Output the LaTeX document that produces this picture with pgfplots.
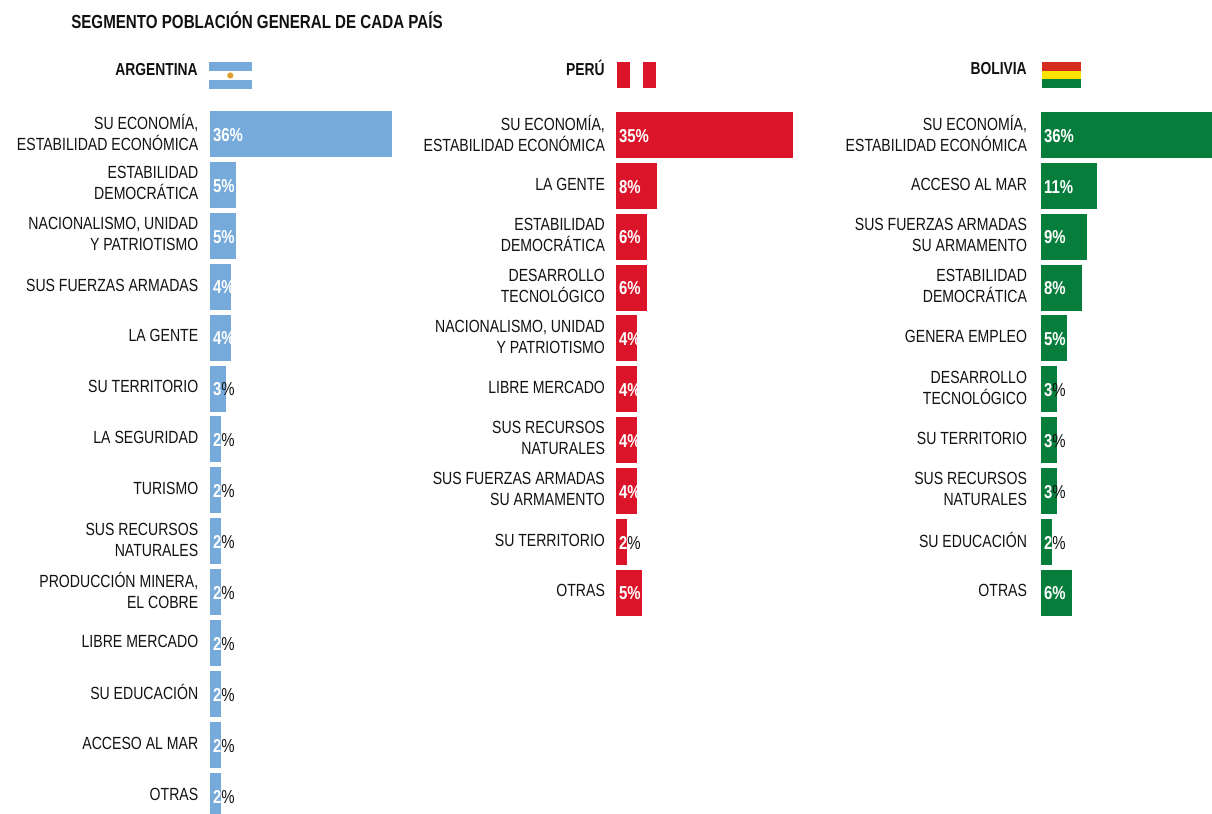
\documentclass[border=0pt]{standalone}
\usepackage{pgfplots}
\pgfplotsset{compat=1.18}
\usepackage{fontspec}
\setmainfont[FakeStretch=0.8]{Liberation Sans}
\definecolor{ar}{HTML}{75AADB}
\definecolor{pe}{HTML}{DC1429}
\definecolor{bo}{HTML}{077D3C}
\definecolor{bored}{HTML}{D52B1E}
\definecolor{boyel}{HTML}{FCE300}
\definecolor{sun}{HTML}{E0A030}
\definecolor{ink}{HTML}{111111}
\newcommand{\W}[1]{\textcolor{white}{#1\%}}
\newcommand{\K}[1]{\textcolor{white}{#1}\textcolor{ink}{\mdseries\%}}
\newcommand{\lfs}{\fontsize{13.2}{15.7}\selectfont}
\pgfplotsset{
  panel/.style={
    anchor=north west, scale only axis,
    width=750pt, height=609.75pt,
    x=3.78pt,
    xmin=0, xmax=198,
    y dir=reverse, clip=false, axis line style={draw=none},
    xtick=\empty, tick style={draw=none},
    yticklabel style={align=right,font=\lfs,text=ink,inner xsep=0pt,xshift=-9pt,yshift=1.3pt},
  },
  vals/.style={draw=none, mark=none, point meta=explicit symbolic, nodes near coords, every node near coord/.style={anchor=west,inner xsep=0pt,xshift=1.7pt,yshift=-0.6pt,font=\fontsize{14}{16}\selectfont\bfseries}},
  bars/.style={xbar, bar width=33.75pt, bar shift=0pt, fill=#1, draw=#1, line width=0.75pt},
}
\begin{document}
\begin{tikzpicture}[x=0.75pt,y=-0.75pt]
\path[use as bounding box] (0,0) rectangle (1212,813);
\begin{scope}
\clip (0,0) rectangle (1212,813);
\node[anchor=base west,inner xsep=0pt,text=ink,font=\fontsize{14.2}{16}\selectfont\bfseries] at (71,29) {SEGMENTO POBLACIÓN GENERAL DE CADA PAÍS};
\node[anchor=base east,inner xsep=0pt,text=ink,font=\fontsize{13}{14}\selectfont\bfseries] at (198,76) {ARGENTINA};
\node[anchor=base east,inner xsep=0pt,text=ink,font=\fontsize{13}{14}\selectfont\bfseries] at (605,76) {PERÚ};
\node[anchor=base east,inner xsep=0pt,text=ink,font=\fontsize{13}{14}\selectfont\bfseries] at (1027,75) {BOLIVIA};
% flags
\fill[ar] (209,62) rectangle (252,71);
\fill[ar] (209,80) rectangle (252,89);
\fill[sun] (230.3,75.5) circle (3.1);
\fill[pe] (617,62) rectangle (630,88);
\fill[pe] (643,62) rectangle (656,88);
\fill[bored] (1042,62) rectangle (1081,70.7);
\fill[boyel] (1042,70.7) rectangle (1081,79.3);
\fill[bo] (1042,79.3) rectangle (1081,88);

\begin{axis}[panel,
  at={(157.875pt,-0pt)},
  y=38.175pt, ymin=-2.633, ymax=13.34,
  ytick={0,...,13},
  yticklabels={{SU ECONOMÍA,\\ESTABILIDAD ECONÓMICA},{ESTABILIDAD\\DEMOCRÁTICA},{NACIONALISMO, UNIDAD\\Y PATRIOTISMO},{SUS FUERZAS ARMADAS},{LA GENTE},{SU TERRITORIO},{LA SEGURIDAD},{TURISMO},{SUS RECURSOS\\NATURALES},{PRODUCCIÓN MINERA,\\EL COBRE},{LIBRE MERCADO},{SU EDUCACIÓN},{ACCESO AL MAR},{OTRAS}},
]
\addplot[bars=ar] coordinates {(36,0)(5,1)(5,2)(4,3)(4,4)(3,5)(2,6)(2,7)(2,8)(2,9)(2,10)(2,11)(2,12)(2,13)};
\addplot[vals] coordinates {
(0,0)[\W{36}](0,1)[\W{5}](0,2)[\W{5}](0,3)[\W{4}](0,4)[\W{4}](0,5)[\K{3}](0,6)[\K{2}](0,7)[\K{2}](0,8)[\K{2}](0,9)[\K{2}](0,10)[\K{2}](0,11)[\K{2}](0,12)[\K{2}](0,13)[\K{2}]};
\end{axis}

\begin{axis}[panel,
  at={(462.375pt,-0pt)},
  y=38.14pt, ymin=-2.654, ymax=13.33,
  ytick={0,...,9},
  yticklabel style={xshift=0.5pt},
  yticklabels={{SU ECONOMÍA,\\ESTABILIDAD ECONÓMICA},{LA GENTE},{ESTABILIDAD\\DEMOCRÁTICA},{DESARROLLO\\TECNOLÓGICO},{NACIONALISMO, UNIDAD\\Y PATRIOTISMO},{LIBRE MERCADO},{SUS RECURSOS\\NATURALES},{SUS FUERZAS ARMADAS\\SU ARMAMENTO},{SU TERRITORIO},{OTRAS}},
]
\addplot[bars=pe] coordinates {(35,0)(8,1)(6,2)(6,3)(4,4)(4,5)(4,6)(4,7)(2,8)(5,9)};
\addplot[vals] coordinates {
(0,0)[\W{35}](0,1)[\W{8}](0,2)[\W{6}](0,3)[\W{6}](0,4)[\W{4}](0,5)[\W{4}](0,6)[\W{4}](0,7)[\W{4}](0,8)[\K{2}](0,9)[\W{5}]};
\end{axis}

\begin{axis}[panel,
  at={(781.125pt,-0pt)},
  y=38.14pt, ymin=-2.654, ymax=13.33,
  ytick={0,...,9},
  yticklabel style={xshift=-1.7pt},
  yticklabels={{SU ECONOMÍA,\\ESTABILIDAD ECONÓMICA},{ACCESO AL MAR},{SUS FUERZAS ARMADAS\\SU ARMAMENTO},{ESTABILIDAD\\DEMOCRÁTICA},{GENERA EMPLEO},{DESARROLLO\\TECNOLÓGICO},{SU TERRITORIO},{SUS RECURSOS\\NATURALES},{SU EDUCACIÓN},{OTRAS}},
]
\addplot[bars=bo] coordinates {(36,0)(11,1)(9,2)(8,3)(5,4)(3,5)(3,6)(3,7)(2,8)(6,9)};
\addplot[vals] coordinates {
(0,0)[\W{36}](0,1)[\W{11}](0,2)[\W{9}](0,3)[\W{8}](0,4)[\W{5}](0,5)[\K{3}](0,6)[\K{3}](0,7)[\K{3}](0,8)[\K{2}](0,9)[\W{6}]};
\end{axis}
\end{scope}
\end{tikzpicture}
\end{document}
